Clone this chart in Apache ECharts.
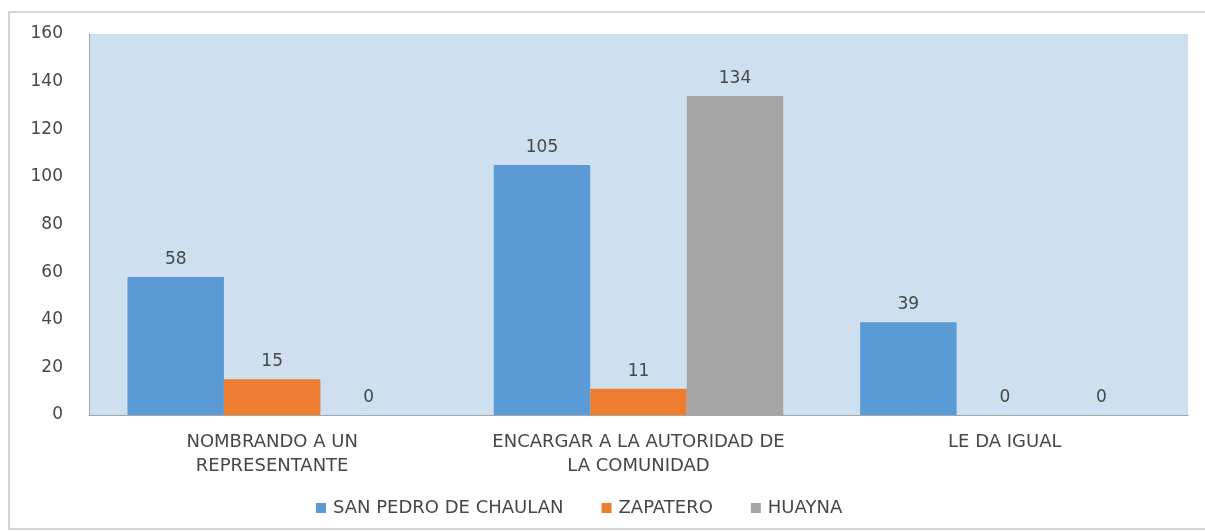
<!DOCTYPE html>
<html>
<head>
<meta charset="utf-8">
<script src="https://cdn.jsdelivr.net/npm/echarts@6/dist/echarts.min.js"></script>
<style>
  html, body { margin: 0; padding: 0; background: #fff; }
  #chart { width: 1205px; height: 531px; }
</style>
</head>
<body>
<div id="chart"></div>
<script>
// categorías del eje x
const categories = ['NOMBRANDO A UN\nREPRESENTANTE', 'ENCARGAR A LA AUTORIDAD DE\nLA COMUNIDAD', 'LE DA IGUAL'];
// valores por localidad
const sanPedro = [58, 105, 39];
const zapatero = [15, 11, 0];
const huayna = [0, 134, 0];
const seriesNames = ['SAN PEDRO DE CHAULAN', 'ZAPATERO', 'HUAYNA'];
const colors = ['#5B9BD5', '#ED7D31', '#A5A5A5'];

const font = "'DejaVu Sans', sans-serif";
const textColor = '#474747';
const chart = echarts.init(document.getElementById('chart'));

const labelStyle = {
    show: true,
    position: 'top',
    distance: 9,
    color: textColor,
    fontSize: 17,
    fontFamily: font
};

const option = {
    backgroundColor: '#fff',
    color: colors,
    animation: false,
    graphic: [{
        type: 'rect',
        shape: { x: 9, y: 12, width: 1205, height: 517 },
        style: { fill: 'none', stroke: '#c8c8c8', lineWidth: 1.5 },
        silent: true
    }],
    grid: {
        left: 89,
        right: 17,
        top: 34,
        bottom: 116,
        show: true,
        backgroundColor: '#CEDFF0',
        borderWidth: 0
    },
    legend: {
        bottom: 9,
        left: 311,
        itemWidth: 10,
        itemHeight: 10,
        itemGap: 38,
        icon: 'rect',
        textStyle: { color: textColor, fontSize: 18, fontFamily: font, padding: [0, 0, 0, 2] },
        data: seriesNames
    },
    xAxis: {
        type: 'category',
        data: categories,
        axisTick: { show: false },
        axisLine: { lineStyle: { color: '#a6a6a6', width: 1 } },
        axisLabel: {
            interval: 0,
            color: textColor,
            fontSize: 18,
            fontFamily: font,
            margin: 15,
            lineHeight: 24
        }
    },
    yAxis: {
        type: 'value',
        min: 0,
        max: 160,
        interval: 20,
        axisLine: { show: true, lineStyle: { color: '#a6a6a6', width: 1 } },
        axisTick: { show: false },
        splitLine: { show: false },
        axisLabel: {
            color: textColor,
            fontSize: 17,
            fontFamily: font,
            margin: 26
        }
    },
    series: [
        { name: seriesNames[0], type: 'bar', data: sanPedro, barGap: '0%', barCategoryGap: '21%', label: labelStyle },
        { name: seriesNames[1], type: 'bar', data: zapatero, barGap: '0%', barCategoryGap: '21%', label: labelStyle },
        { name: seriesNames[2], type: 'bar', data: huayna, barGap: '0%', barCategoryGap: '21%', label: labelStyle }
    ]
};

chart.setOption(option);
</script>
</body>
</html>
